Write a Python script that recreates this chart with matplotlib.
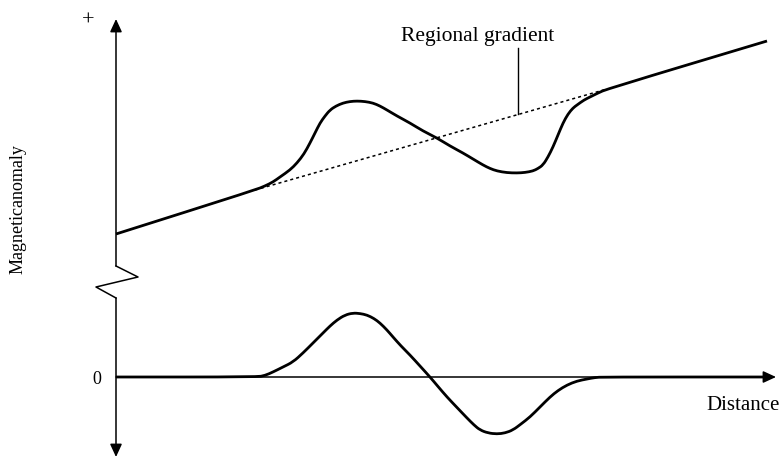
import numpy as np
import matplotlib.pyplot as plt
from matplotlib.path import Path
from matplotlib.patches import PathPatch

# Curvas desenhadas em unidades do desenho (x cresce para a direita, y para baixo)
campo_x = [116, 255, 265, 273, 280, 290, 297, 304, 310, 315, 320, 325, 330, 336,
           343, 350, 357, 365, 373, 380, 387, 397, 410, 423, 437, 450, 463, 473,
           483, 490, 497, 507, 517, 525, 533, 538, 543, 548, 553, 558, 563, 568,
           573, 577, 584, 590, 598, 607, 767]
campo_y = [234, 190, 186, 182, 177, 170, 163, 154, 143, 133, 123, 116, 110, 106,
           103, 101.5, 101, 101.5, 103, 106, 110, 116, 123, 131, 138, 146, 153, 159,
           165, 168.5, 171, 172.7, 173, 172.5, 171, 168.5, 165, 157, 147, 135, 123, 114,
           108, 105, 100, 97, 93, 89, 41]

residual_x = [116, 257, 265, 273, 283, 293, 303, 313, 323, 330, 337, 345, 353, 360,
              367, 374, 380, 387, 393, 401, 410, 420, 430, 438, 447, 457, 467, 474,
              480, 488, 497, 505, 513, 521, 530, 540, 550, 558, 567, 577, 587, 595,
              603, 768]
residual_y = [377, 377, 375.5, 372, 367, 362, 353, 343, 333, 326, 320, 315, 313, 313.5,
              315, 318.5, 323, 330, 337, 346, 355, 366, 377, 386.5, 397, 407.5, 418, 425,
              430, 433, 434, 433, 430, 424, 417, 407, 397, 390.5, 385, 381, 379, 377.5,
              377, 377]

# gradiente regional (tracejado) entre os pontos onde a curva se afasta
gradiente_x = [255, 607]
gradiente_y = [190, 89]


def caminho_suave(xs, ys):
    # pontos lidos viram pontos de controle de curvas quadráticas
    pts = np.column_stack([xs, ys])
    verts = [pts[0], (pts[0] + pts[1]) / 2]
    codes = [Path.MOVETO, Path.LINETO]
    for i in range(1, len(pts) - 1):
        verts += [pts[i], (pts[i] + pts[i + 1]) / 2]
        codes += [Path.CURVE3, Path.CURVE3]
    verts.append(pts[-1])
    codes.append(Path.LINETO)
    return Path(verts, codes)


plt.rcParams['font.family'] = ['Liberation Serif', 'DejaVu Serif']

fig = plt.figure(figsize=(7.81, 4.59), dpi=100)
ax = fig.add_axes([0, 0, 1, 1])
ax.set_xlim(0, 781)
ax.set_ylim(459, 0)
ax.axis('off')

seta = dict(arrowstyle='-|>,head_length=0.65,head_width=0.3', color='black',
            lw=1.1, shrinkA=0, shrinkB=0, mutation_scale=12)

# eixo vertical com quebra
ax.annotate('', xy=(116, 19), xytext=(116, 266), arrowprops=seta)
ax.annotate('', xy=(116, 457), xytext=(116, 298), arrowprops=seta)
ax.plot([116, 138, 96, 116], [266, 277, 287, 298], color='black', lw=1.1)

# eixo horizontal (zero)
ax.annotate('', xy=(776, 377), xytext=(116, 377), arrowprops=seta)

# curvas
ax.plot(gradiente_x, gradiente_y, color='black', lw=1.1, linestyle=(0, (2, 2)))
for xs, ys in [(campo_x, campo_y), (residual_x, residual_y)]:
    ax.add_patch(PathPatch(caminho_suave(xs, ys), facecolor='none', edgecolor='black',
                           lw=2.0, joinstyle='round', capstyle='butt'))

# indicador do gradiente regional
ax.plot([518, 518], [48, 114], color='black', lw=1.0)
ax.text(478, 37, 'Regional gradient', fontsize=15.5, ha='center', va='center')

ax.text(88, 21, '+', fontsize=16, ha='center', va='center')
ax.text(97, 380, '0', fontsize=13, ha='center', va='center')
ax.text(780, 406, 'Distance', fontsize=15, ha='right', va='center')
ax.text(18, 209, 'Magneticanomaly', fontsize=13, rotation=90, ha='center', va='center')

fig.savefig('out.png', dpi=100)
